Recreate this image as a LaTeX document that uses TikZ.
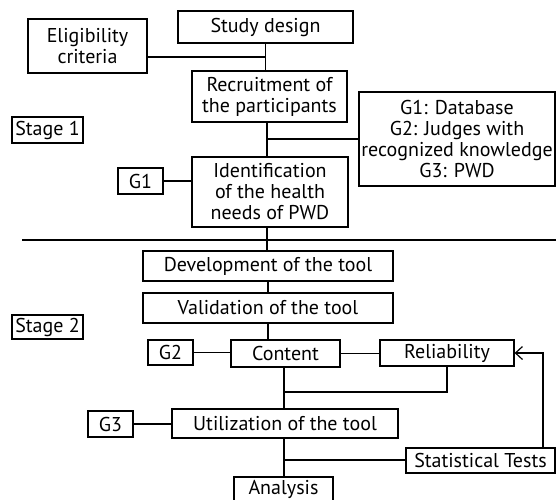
\documentclass[tikz,border=0pt]{standalone}
\usepackage{fontspec}
\setmainfont{PT Sans}
\usetikzlibrary{arrows.meta}
\begin{document}
\begin{tikzpicture}[x=1pt,y=-1pt,
  every node/.style={font=\fontsize{20}{21}\selectfont},
  box/.style={draw, line width=1.2pt, inner sep=0pt, align=center},
  link/.style={line width=1.2pt}]
\useasboundingbox (0,0) rectangle (556,499);
% nodes
\node[box, minimum width=175, minimum height=32] (study) at (265.5,27) {Study design};
\node[box, minimum width=119, minimum height=54] (elig) at (87.5,46) {Eligibility\\criteria};
\node[box, minimum width=155, minimum height=51] (recruit) at (269.5,96.5) {Recruitment of\\the participants};
\node[box, minimum width=196, minimum height=94] (groups) at (457,139) {G1: Database\\G2: Judges with\\recognized knowledge\\G3: PWD};
\node[box, minimum width=71, minimum height=26] (stage1) at (47.5,130) {Stage 1};
\node[box, minimum width=45, minimum height=26] (g1) at (140.5,181) {G1};
\node[box, minimum width=156, minimum height=70] (ident) at (270,192) {Identification\\of the health\\needs of PWD};
\node[box, minimum width=250, minimum height=30] (dev) at (268,266) {Development of the tool};
\node[box, minimum width=250, minimum height=30] (val) at (268,308) {Validation of the tool};
\node[box, minimum width=71, minimum height=24] (stage2) at (47.5,327) {Stage 2};
\node[box, minimum width=45, minimum height=25] (g2) at (170.5,352.5) {G2};
\node[box, minimum width=109, minimum height=27] (content) at (285.5,353.5) {Content};
\node[box, minimum width=134, minimum height=26] (rel) at (447,353) {Reliability};
\node[box, minimum width=45, minimum height=26] (g3) at (110.5,424) {G3};
\node[box, minimum width=226, minimum height=29] (util) at (285,423.5) {Utilization of the tool};
\node[box, minimum width=149, minimum height=25] (stat) at (480.5,460.5) {Statistical Tests};
\node[box, minimum width=99, minimum height=24] (analysis) at (283.5,489) {Analysis};
% junction coordinates
\coordinate (jElig) at (266,57);
\coordinate (jGroups) at (267,139);
\coordinate (trunkA) at (267,0);
\coordinate (trunkB) at (284,0);
\coordinate (jRel) at (284,392);
\coordinate (jStat) at (284,460);
\coordinate (divL) at (22,240);
\coordinate (divR) at (556,240);
\coordinate (arrowCorner) at (543,353);
% connectors
\draw[link] (study.south) -- (study.south |- recruit.north);
\draw[link] (jElig -| elig.east) -- (jElig);
\draw[link] (trunkA |- recruit.south) -- (trunkA |- ident.north);
\draw[link] (jGroups) -- (groups.west);
\draw[link] (g1.east) -- (g1.east -| ident.west);
\draw[link] (divL) -- (divR);
\draw[link] (trunkA |- ident.south) -- (trunkA |- dev.north);
\draw[link] (dev.south) -- (val.north);
\draw[link] (val.south) -- (val.south |- content.north);
\draw[link] (g2.east) -- (g2.east -| content.west);
\draw[link] (content.east) -- (content.east -| rel.west);
\draw[link] (trunkB |- content.south) -- (trunkB |- util.north);
\draw[link] (jRel) -- (jRel -| rel.south) -- (rel.south);
\draw[link] (g3.east) -- (g3.east -| util.west);
\draw[link] (trunkB |- util.south) -- (trunkB |- analysis.north);
\draw[link] (jStat) -- (jStat -| stat.west);
\draw[link, -{Straight Barb[length=7,width=13,line width=1.2pt]}] (arrowCorner |- stat.north) -- (arrowCorner) -- (rel.east);
\end{tikzpicture}
\end{document}
